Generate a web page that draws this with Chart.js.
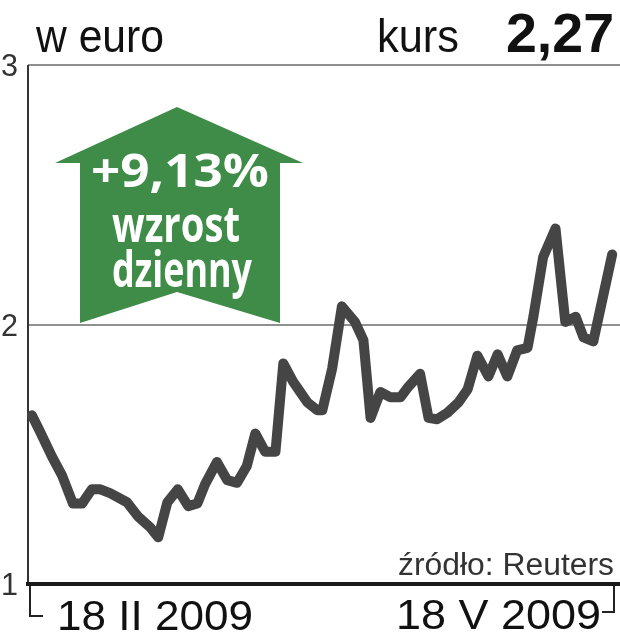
<!DOCTYPE html>
<html>
<head>
<meta charset="utf-8">
<script src="https://cdn.jsdelivr.net/npm/chart.js@4"></script>
<style>
  html, body { margin: 0; padding: 0; background: #fff; }
  #wrap { width: 620px; height: 640px; }
</style>
</head>
<body>
<div id="wrap"><canvas id="plot" width="620" height="640"></canvas></div>
<script>
// days since 18 II 2009 and EUR rate
const days = [0, 1.2, 3.1, 4.6, 6.3, 7.7, 9.2, 10.5, 12, 14.6, 16.3, 18.1, 19.4, 20.8, 22.4, 24, 25.4, 26.6,
    28.4, 30, 31.5, 33, 34.3, 35.8, 37.4, 38.6, 40.1, 42.3, 43.8, 44.6, 46.1, 47.6, 49.6, 50.9, 52, 53.5,
    55, 56.6, 57.8, 59.6, 60.9, 62.2, 63.8, 65.5, 66.9, 68.4, 70.1, 71.5, 73, 74.5, 76.1, 77, 78.5, 80.4,
    81.9, 83.5, 84.7, 86.2, 89.1];
const rate = [1.65, 1.59, 1.49, 1.42, 1.31, 1.31, 1.365, 1.365, 1.35, 1.315, 1.26, 1.22, 1.18, 1.315, 1.365,
    1.30, 1.31, 1.385, 1.47, 1.40, 1.39, 1.455, 1.58, 1.51, 1.51, 1.85, 1.78, 1.70, 1.67, 1.67, 1.83, 2.07,
    2.01, 1.94, 1.64, 1.74, 1.72, 1.72, 1.76, 1.81, 1.64, 1.635, 1.66, 1.70, 1.75, 1.88, 1.80, 1.885, 1.80,
    1.90, 1.91, 2.03, 2.26, 2.37, 2.01, 2.03, 1.95, 1.935, 2.27];
const yTicks = [1, 2, 3];
const xLabels = ['18 II 2009', '18 V 2009'];
const lastValue = '2,27';
const change = '+9,13%';

const SANS = '"Liberation Sans", Arial, sans-serif';
const BOLD = '"Open Sans", sans-serif';

// draw text squeezed/stretched to a given width
function fitText(c, txt, x, y, font, w, align) {
    c.font = font;
    const s = w / c.measureText(txt).width;
    c.save();
    c.translate(x, y);
    c.scale(s, 1);
    c.textAlign = align;
    c.fillText(txt, 0, 0);
    c.restore();
}

const decor = {
    id: 'decor',
    beforeDatasetsDraw(chart) {
        const c = chart.ctx, a = chart.chartArea, y = chart.scales.y;
        c.save();
        // top border and grid line at 2
        c.strokeStyle = '#909090';
        c.lineWidth = 2;
        [3, 2].forEach(v => {
            const py = Math.round(y.getPixelForValue(v));
            c.beginPath(); c.moveTo(a.left, py); c.lineTo(a.right, py); c.stroke();
        });
        // left axis
        c.strokeStyle = '#333';
        c.lineWidth = 2;
        c.beginPath(); c.moveTo(a.left, y.getPixelForValue(3)); c.lineTo(a.left, y.getPixelForValue(1)); c.stroke();

        // green arrow
        c.fillStyle = '#3f8b48';
        c.beginPath();
        c.moveTo(177, 107); c.lineTo(303, 163); c.lineTo(280, 163); c.lineTo(280, 323);
        c.lineTo(177, 292); c.lineTo(80, 323); c.lineTo(80, 163); c.lineTo(55, 163);
        c.closePath(); c.fill();
        c.fillStyle = '#fff';
        c.textBaseline = 'alphabetic';
        fitText(c, change, 180, 187, 'bold 46px ' + BOLD, 178, 'center');
        fitText(c, 'wzrost', 176, 242, 'bold 50px ' + BOLD, 128, 'center');
        fitText(c, 'dzienny', 182, 287, 'bold 50px ' + BOLD, 140, 'center');
        c.restore();
    },
    afterDatasetsDraw(chart) {
        const c = chart.ctx, a = chart.chartArea, y = chart.scales.y;
        c.save();
        // bottom axis
        c.strokeStyle = '#1a1a1a';
        c.lineWidth = 4;
        const by = y.getPixelForValue(1);
        c.beginPath(); c.moveTo(a.left - 2, by); c.lineTo(a.right, by); c.stroke();

        // y tick labels
        c.fillStyle = '#333';
        c.textBaseline = 'alphabetic';
        yTicks.forEach(v => {
            fitText(c, String(v), 1, y.getPixelForValue(v) + 11, '31px ' + SANS, 17, 'left');
        });

        // header
        c.fillStyle = '#111';
        fitText(c, 'w euro', 36, 52, '47px ' + SANS, 128, 'left');
        fitText(c, 'kurs', 459, 52, '47px ' + SANS, 82, 'right');
        fitText(c, lastValue, 614, 52, 'bold 56px ' + SANS, 108, 'right');

        // source
        c.fillStyle = '#333';
        fitText(c, 'źródło: Reuters', 614, 575, '31px ' + SANS, 216, 'right');

        // x labels with brackets
        c.fillStyle = '#111';
        fitText(c, xLabels[0], 57, 630, '43px ' + SANS, 196, 'left');
        fitText(c, xLabels[1], 601, 629, '43px ' + SANS, 205, 'right');
        c.strokeStyle = '#222';
        c.lineWidth = 2;
        c.beginPath();
        c.moveTo(a.left + 2, by + 2); c.lineTo(a.left + 2, 616); c.lineTo(a.left + 15, 616);
        c.moveTo(614, by + 2); c.lineTo(614, 612); c.lineTo(602, 612);
        c.stroke();
        c.restore();
    }
};

new Chart(document.getElementById('plot'), {
    type: 'line',
    data: {
        datasets: [{
            data: days.map((d, i) => ({ x: d, y: rate[i] })),
            borderColor: '#454545',
            borderWidth: 10,
            borderJoinStyle: 'round',
            borderCapStyle: 'round',
            pointRadius: 0,
            tension: 0,
            clip: false,
        }]
    },
    options: {
        responsive: false,
        animation: false,
        layout: { padding: { left: 28, top: 65, right: 0, bottom: 56 } },
        plugins: { legend: { display: false }, tooltip: { enabled: false } },
        scales: {
            x: { type: 'linear', min: -0.6, max: 90.3, display: false },
            y: { min: 1, max: 3, display: false }
        }
    },
    plugins: [decor]
});
</script>
</body>
</html>
